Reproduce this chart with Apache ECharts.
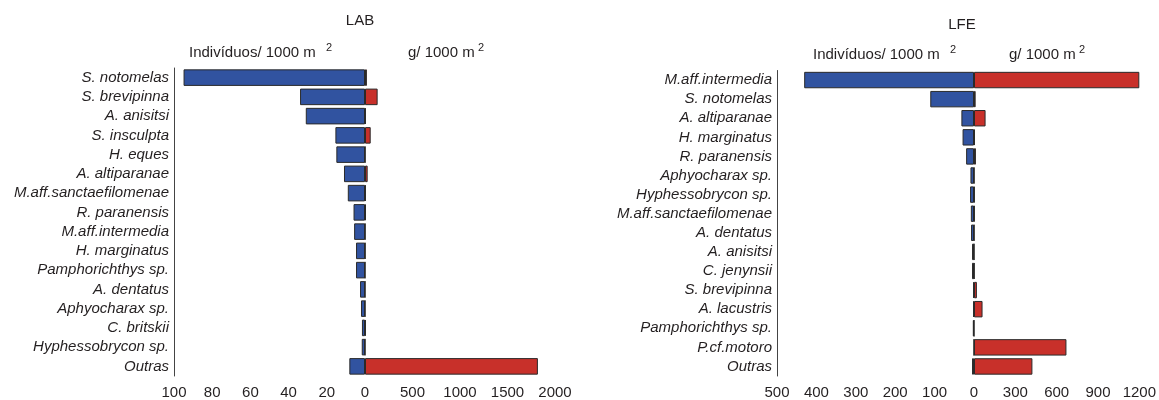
<!DOCTYPE html>
<html>
<head>
<meta charset="utf-8">
<script src="https://cdn.jsdelivr.net/npm/echarts@6/dist/echarts.min.js"></script>
<style>
  html, body { margin: 0; padding: 0; background: #fff; }
  #chart { width: 1159px; height: 400px; }
</style>
</head>
<body>
<div id="chart"></div>
<script>
// LAB site: density (individuals / 1000 m²) and biomass (g / 1000 m²) per species
const labSpecies = [
  'S. notomelas', 'S. brevipinna', 'A. anisitsi', 'S. insculpta', 'H. eques',
  'A. altiparanae', 'M.aff.sanctaefilomenae', 'R. paranensis', 'M.aff.intermedia',
  'H. marginatus', 'Pamphorichthys sp.', 'A. dentatus', 'Aphyocharax sp.',
  'C. britskii', 'Hyphessobrycon sp.', 'Outras'
];
const labIndividuals = [95, 34, 31, 15.5, 15, 11, 9, 6, 5.7, 4.7, 4.7, 2.6, 2.1, 1.6, 1.7, 8.2];
const labBiomass     = [20, 133, 8, 60, 3, 28, 8, 10, 3, 3, 1, 1, 1, 8, 1, 1820];

// LFE site
const lfeSpecies = [
  'M.aff.intermedia', 'S. notomelas', 'A. altiparanae', 'H. marginatus', 'R. paranensis',
  'Aphyocharax sp.', 'Hyphessobrycon sp.', 'M.aff.sanctaefilomenae', 'A. dentatus',
  'A. anisitsi', 'C. jenynsii', 'S. brevipinna', 'A. lacustris', 'Pamphorichthys sp.',
  'P.cf.motoro', 'Outras'
];
const lfeIndividuals = [431, 111, 32, 29, 20, 9, 10, 8, 7.5, 5, 5, 2, 2, 3, 0.3, 5];
const lfeBiomass     = [1200, 12, 84, 7, 14, 2, 5, 5, 2, 1, 3, 21, 62, 0.5, 671, 424];

// Axis ranges and tick steps
const labIndAxis = { max: 100, step: 20 };
const labBioAxis = { max: 2000, step: 500 };
const lfeIndAxis = { max: 500, step: 100 };
const lfeBioAxis = { max: 1200, step: 300 };

const FONT = 'Liberation Sans, Arial, Helvetica, sans-serif';
const INK = '#231f20';
const BLUE = '#3153a0';
const RED = '#c8302a';
const EDGE = '#2a2a2a';

const chart = echarts.init(document.getElementById('chart'), null, { renderer: 'canvas' });

function valueAxis(gridIndex, range, inverse) {
  return {
    type: 'value', gridIndex: gridIndex,
    min: 0, max: range.max, interval: range.step, inverse: inverse,
    axisLine: { show: false }, axisTick: { show: false }, splitLine: { show: false },
    axisLabel: {
      fontFamily: FONT, fontSize: 15, color: INK, margin: 9,
      showMinLabel: !inverse,
      formatter: function (v) { return String(v); }
    }
  };
}

function categoryAxis(gridIndex, cats, showLabels) {
  return {
    type: 'category', gridIndex: gridIndex, data: cats, inverse: true,
    position: 'left',
    axisLine: { show: showLabels, onZero: false, lineStyle: { color: '#444', width: 1 } },
    axisTick: { show: false },
    axisLabel: {
      show: showLabels, interval: 0, fontFamily: FONT, fontSize: 15, fontStyle: 'italic',
      color: INK, margin: 5
    }
  };
}

function barSeries(axisIndex, data, color) {
  return {
    type: 'bar', xAxisIndex: axisIndex, yAxisIndex: axisIndex, data: data,
    barCategoryGap: '14%',
    itemStyle: { color: color, borderColor: EDGE, borderWidth: 1 },
    silent: true
  };
}

function headerTexts(cx, titleY, title, indLeft, bioLeft, subY) {
  const base = { fontFamily: FONT, fill: INK };
  return [
    { type: 'text', x: cx, y: titleY,
      style: Object.assign({ text: title, fontSize: 15, align: 'center', verticalAlign: 'middle' }, base) },
    { type: 'text', x: indLeft, y: subY,
      style: Object.assign({ text: 'Indivíduos/ 1000 m', fontSize: 15, align: 'left', verticalAlign: 'middle' }, base) },
    { type: 'text', x: indLeft + 137, y: subY - 5,
      style: Object.assign({ text: '2', fontSize: 11, align: 'left', verticalAlign: 'middle' }, base) },
    { type: 'text', x: bioLeft, y: subY,
      style: Object.assign({ text: 'g/ 1000 m', fontSize: 15, align: 'left', verticalAlign: 'middle' }, base) },
    { type: 'text', x: bioLeft + 70, y: subY - 5,
      style: Object.assign({ text: '2', fontSize: 11, align: 'left', verticalAlign: 'middle' }, base) }
  ];
}

const option = {
  animation: false,
  backgroundColor: '#ffffff',
  grid: [
    { left: 174, top: 68, width: 191, height: 309 },
    { left: 365, top: 68, width: 190, height: 309 },
    { left: 777, top: 70.5, width: 197, height: 310 },
    { left: 974, top: 70.5, width: 168, height: 310 }
  ],
  xAxis: [
    valueAxis(0, labIndAxis, true),
    valueAxis(1, labBioAxis, false),
    valueAxis(2, lfeIndAxis, true),
    valueAxis(3, lfeBioAxis, false)
  ],
  yAxis: [
    categoryAxis(0, labSpecies, true),
    categoryAxis(1, labSpecies, false),
    categoryAxis(2, lfeSpecies, true),
    categoryAxis(3, lfeSpecies, false)
  ],
  series: [
    barSeries(0, labIndividuals, BLUE),
    barSeries(1, labBiomass, RED),
    barSeries(2, lfeIndividuals, BLUE),
    barSeries(3, lfeBiomass, RED)
  ],
  graphic: [].concat(
    headerTexts(360, 21, 'LAB', 189, 408, 53),
    headerTexts(962, 25, 'LFE', 813, 1009, 55)
  )
};

chart.setOption(option);
</script>
</body>
</html>
